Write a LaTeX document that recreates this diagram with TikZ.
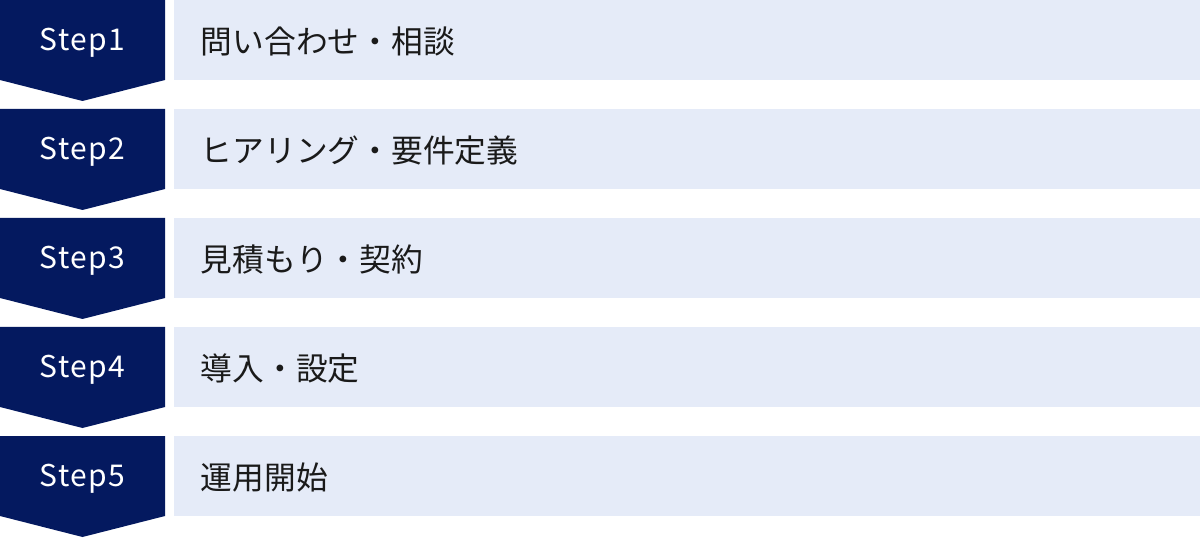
\documentclass[tikz,border=0pt]{standalone}
\usepackage{fontspec}
\setmainfont{Noto Sans CJK JP}
\newfontfamily\stepfont[LetterSpace=5]{Noto Sans CJK JP}
\usetikzlibrary{positioning}
\definecolor{stepfill}{HTML}{04195F}
\definecolor{barfill}{HTML}{E5EBF8}
\definecolor{txt}{HTML}{1A1A1A}

\begin{document}
\begin{tikzpicture}[
  x=0.75pt, y=-0.75pt,
  steplabel/.style={
    text=white,
    font=\stepfont\fontsize{22.5pt}{26pt}\selectfont,
    inner sep=0pt
  },
  bar/.style={
    fill=barfill,
    minimum width=769.5pt,
    minimum height=60pt,
    inner sep=0pt,
    anchor=north west
  },
  task/.style={
    text=txt,
    font=\fontsize{23.8pt}{27pt}\selectfont,
    inner sep=0pt,
    anchor=west
  }
]
  \useasboundingbox (0,0) rectangle (1200,538);

  % Steps with chevrons and bars
  \foreach \i/\task in {1/問い合わせ・相談, 2/ヒアリング・要件定義,
      3/見積もり・契約, 4/導入・設定, 5/運用開始} {
    \pgfmathsetmacro{\top}{109*(\i-1)}
    \fill[stepfill] (0,\top) -- ++(165,0) -- ++(0,80) -- ++(-82.5,21)
      -- ++(-82.5,-21) -- cycle;
    \node[steplabel] (step\i) at (82.5,\top+42.5) {Step\i};
    \node[bar] (bar\i) at (174,\top) {};
    \node[task, right=20pt of bar\i.west, yshift=-1pt] (task\i) {\task};
  }
\end{tikzpicture}
\end{document}
